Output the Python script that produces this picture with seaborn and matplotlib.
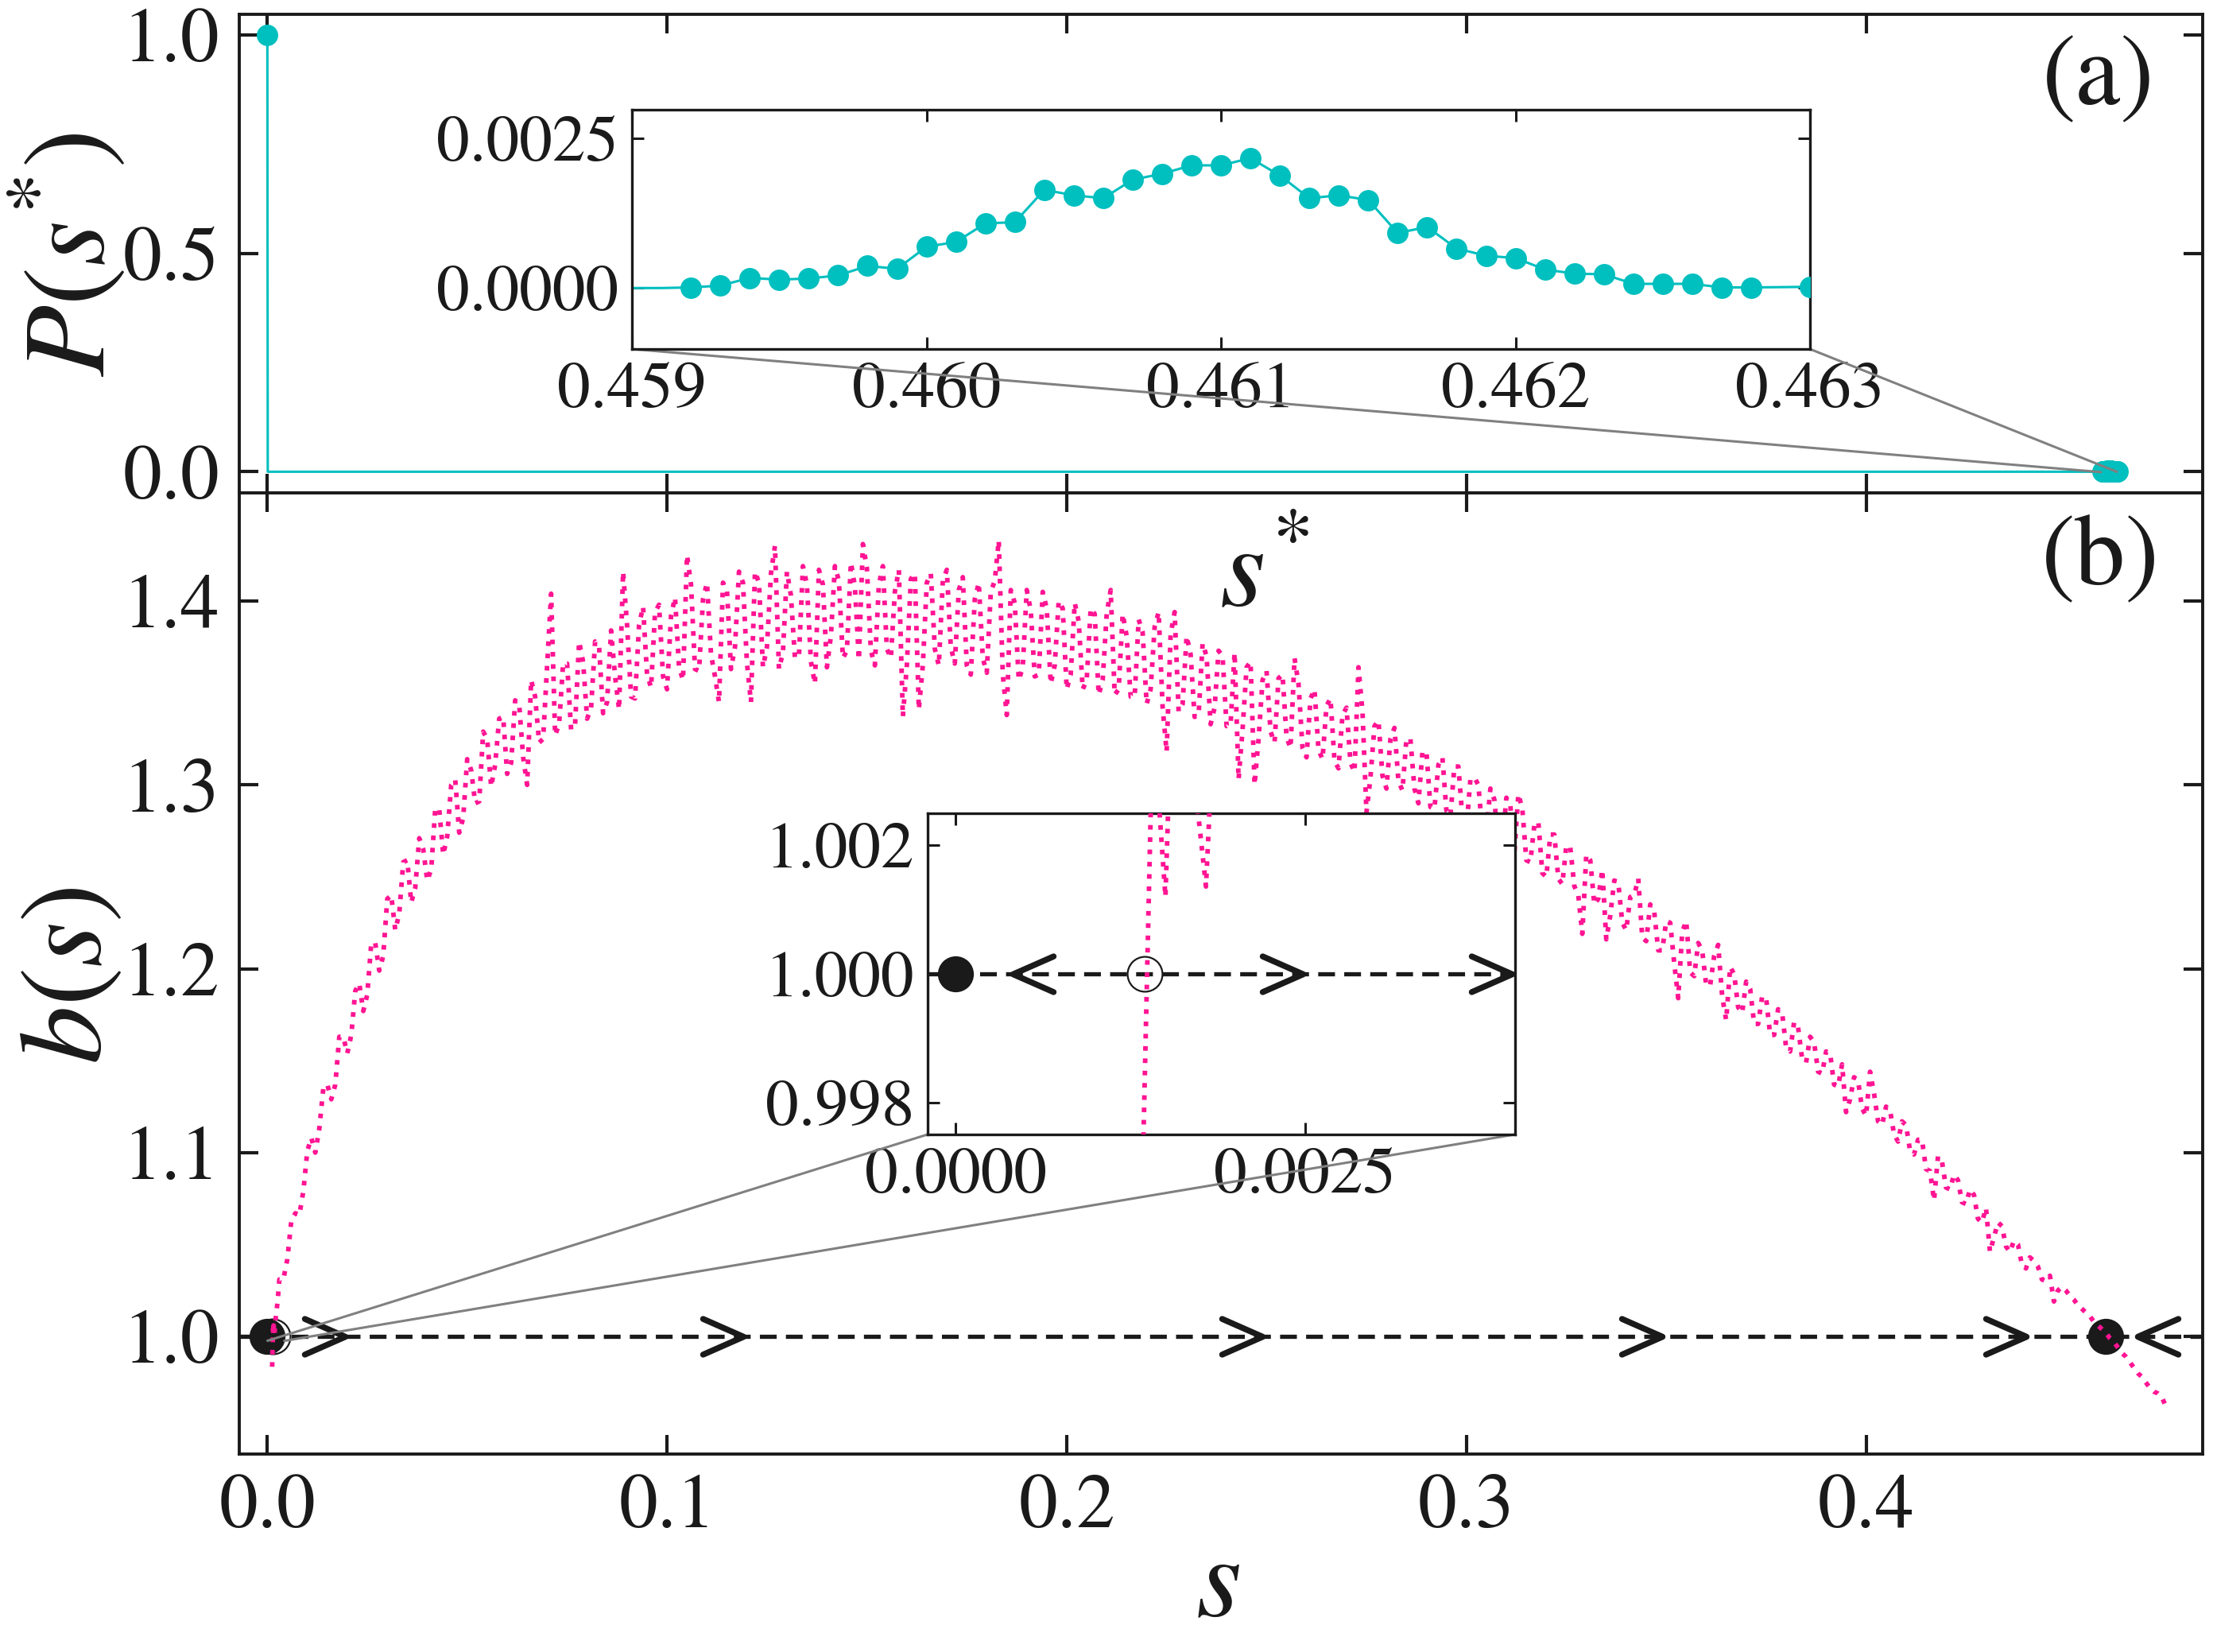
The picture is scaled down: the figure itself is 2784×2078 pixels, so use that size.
import numpy as np
import matplotlib
matplotlib.use('Agg')
import matplotlib.pyplot as plt
from matplotlib.path import Path
from matplotlib.markers import MarkerStyle
import seaborn as sns
from mpl_toolkits.axes_grid1.inset_locator import mark_inset

# ---- panel (a): distribution P(s*) ----
origin_s = [0.0]          # delta peak at s* = 0
origin_p = [1.0]
empty_s = [0.0001, 0.4591]  # empty bins between the two peaks
empty_p = [0.0, 0.0]
peak_s = [0.4592, 0.4593, 0.4594, 0.4595, 0.4596, 0.4597, 0.4598, 0.4599, 0.4600, 0.4601,
          0.4602, 0.4603, 0.4604, 0.4605, 0.4606, 0.4607, 0.4608, 0.4609, 0.4610, 0.4611,
          0.4612, 0.4613, 0.4614, 0.4615, 0.4616, 0.4617, 0.4618, 0.4619, 0.4620, 0.4621,
          0.4622, 0.4623, 0.4624, 0.4625, 0.4626, 0.4627, 0.4628, 0.4630]
peak_p = [0.00001, 0.00004, 0.00017, 0.00014, 0.00016, 0.00021, 0.00037, 0.00032, 0.00069, 0.00077,
          0.00108, 0.00110, 0.00164, 0.00155, 0.00150, 0.00181, 0.00191, 0.00205, 0.00205, 0.00217,
          0.00188, 0.00150, 0.00155, 0.00147, 0.00092, 0.00102, 0.00066, 0.00054, 0.00050, 0.00031,
          0.00024, 0.00023, 0.00007, 0.00007, 0.00007, 0.00001, 0.00001, 0.00002]

# ---- panel (b): b(s) ----
head_s = [0.0012, 0.00141, 0.0015, 0.00157, 0.00166, 0.00179, 0.0019, 0.0022, 0.0026]
head_b = [0.9835, 1.0040, 1.0012, 1.0060, 1.0040, 1.00136, 1.0065, 1.012, 1.020]

# samples at s = 0.003, 0.005, ..., 0.475
odd_start = 0.003
b_odd = [
    1.031, 1.042, 1.067, 1.079, 1.108, 1.113, 1.137, 1.137, 1.163, 1.164,
    1.192, 1.186, 1.214, 1.207, 1.240, 1.230, 1.259, 1.244, 1.265, 1.254,
    1.287, 1.272, 1.303, 1.282, 1.308, 1.291, 1.325, 1.311, 1.337, 1.312,
    1.344, 1.300, 1.348, 1.325, 1.404, 1.333, 1.366, 1.333, 1.367, 1.342,
    1.375, 1.345, 1.359, 1.416, 1.348, 1.387, 1.360, 1.394, 1.359, 1.392,
    1.364, 1.425, 1.363, 1.401, 1.371, 1.345, 1.406, 1.375, 1.410, 1.345,
    1.410, 1.375, 1.430, 1.372, 1.403, 1.370, 1.409, 1.355, 1.409, 1.381,
    1.411, 1.373, 1.408, 1.431, 1.373, 1.409, 1.374, 1.405, 1.337, 1.412,
    1.341, 1.410, 1.374, 1.411, 1.375, 1.406, 1.365, 1.401, 1.369, 1.405,
    1.433, 1.338, 1.399, 1.364, 1.395, 1.360, 1.396, 1.365, 1.396, 1.360,
    1.389, 1.357, 1.393, 1.357, 1.406, 1.352, 1.381, 1.348, 1.383, 1.352,
    1.394, 1.318, 1.394, 1.344, 1.371, 1.338, 1.370, 1.342, 1.370, 1.333,
    1.303, 1.364, 1.300, 1.357, 1.329, 1.358, 1.326, 1.369, 1.320, 1.347,
    1.319, 1.343, 1.313, 1.338, 1.312, 1.364, 1.285, 1.332, 1.305, 1.325,
    1.302, 1.325, 1.298, 1.318, 1.288, 1.311, 1.286, 1.310, 1.282, 1.303,
    1.300, 1.274, 1.292, 1.267, 1.289, 1.295, 1.259, 1.278, 1.252, 1.273,
    1.249, 1.267, 1.245, 1.219, 1.259, 1.238, 1.216, 1.248, 1.225, 1.239,
    1.249, 1.215, 1.231, 1.210, 1.225, 1.184, 1.226, 1.196, 1.210, 1.191,
    1.213, 1.172, 1.197, 1.176, 1.189, 1.170, 1.184, 1.164, 1.176, 1.155,
    1.168, 1.149, 1.160, 1.143, 1.154, 1.136, 1.122, 1.141, 1.124, 1.144,
    1.117, 1.125, 1.110, 1.117, 1.101, 1.107, 1.091, 1.074, 1.095, 1.080,
    1.085, 1.072, 1.077, 1.062, 1.046, 1.062, 1.049, 1.052, 1.039, 1.043,
    1.038, 1.030, 1.019, 1.027, 1.022, 1.017, 1.013, 1.008, 1.004, 0.999,
    0.994, 0.989, 0.983, 0.978, 0.972, 0.969, 0.962,
]
# samples at s = 0.004, 0.006, ..., 0.474
even_start = 0.004
b_even = [
    1.031, 1.063, 1.066, 1.101, 1.100, 1.135, 1.129, 1.163, 1.154, 1.188,
    1.177, 1.214, 1.199, 1.238, 1.221, 1.258, 1.236, 1.271, 1.248, 1.287,
    1.262, 1.300, 1.274, 1.314, 1.290, 1.329, 1.299, 1.336, 1.306, 1.346,
    1.315, 1.357, 1.323, 1.365, 1.327, 1.366, 1.330, 1.378, 1.336, 1.378,
    1.339, 1.384, 1.341, 1.387, 1.347, 1.397, 1.353, 1.398, 1.352, 1.402,
    1.357, 1.409, 1.362, 1.410, 1.359, 1.410, 1.363, 1.416, 1.366, 1.416,
    1.364, 1.415, 1.363, 1.416, 1.369, 1.419, 1.367, 1.417, 1.364, 1.419,
    1.369, 1.421, 1.368, 1.418, 1.365, 1.419, 1.369, 1.417, 1.365, 1.415,
    1.365, 1.415, 1.365, 1.417, 1.366, 1.413, 1.360, 1.410, 1.361, 1.411,
    1.360, 1.406, 1.357, 1.406, 1.359, 1.405, 1.355, 1.400, 1.352, 1.399,
    1.352, 1.396, 1.349, 1.393, 1.349, 1.393, 1.348, 1.390, 1.344, 1.386,
    1.342, 1.382, 1.340, 1.381, 1.337, 1.377, 1.333, 1.373, 1.332, 1.372,
    1.330, 1.367, 1.325, 1.362, 1.323, 1.360, 1.320, 1.355, 1.315, 1.352,
    1.314, 1.347, 1.309, 1.342, 1.307, 1.340, 1.304, 1.335, 1.298, 1.331,
    1.297, 1.325, 1.290, 1.318, 1.287, 1.315, 1.283, 1.310, 1.276, 1.304,
    1.274, 1.298, 1.267, 1.293, 1.263, 1.287, 1.258, 1.280, 1.250, 1.273,
    1.246, 1.266, 1.240, 1.262, 1.235, 1.254, 1.229, 1.247, 1.221, 1.240,
    1.217, 1.235, 1.210, 1.226, 1.203, 1.220, 1.198, 1.214, 1.191, 1.207,
    1.185, 1.201, 1.179, 1.193, 1.170, 1.185, 1.164, 1.178, 1.157, 1.171,
    1.151, 1.163, 1.144, 1.155, 1.137, 1.148, 1.129, 1.139, 1.120, 1.132,
    1.115, 1.123, 1.106, 1.115, 1.099, 1.107, 1.090, 1.098, 1.081, 1.088,
    1.073, 1.080, 1.064, 1.070, 1.054, 1.060, 1.046, 1.050, 1.037, 1.041,
    1.031, 1.033, 1.025, 1.025, 1.020, 1.015, 1.011, 1.006, 1.002, 0.997,
    0.991, 0.986, 0.980, 0.975, 0.970, 0.967,
]

fixed_b = 1.0
stable_s = [0.0, 0.4600]
unstable_s = [0.00135]
flow_right = [0.0195, 0.119, 0.249, 0.349, 0.44]
flow_left = [0.468]
zoom_right = [0.00248, 0.00398]
zoom_left = [0.00041]

PINK = '#FF1493'
CYAN = '#00BFBF'

# assemble series
line_s = origin_s + empty_s + peak_s
line_p = origin_p + empty_p + peak_p
mark_s = origin_s + peak_s
mark_p = origin_p + peak_p
s_odd = np.round(odd_start + 0.002 * np.arange(len(b_odd)), 4)
s_even = np.round(even_start + 0.002 * np.arange(len(b_even)), 4)
b_s = np.concatenate([head_s, s_odd, s_even])
b_v = np.concatenate([head_b, b_odd, b_even])
order = np.argsort(b_s, kind='stable')
b_s, b_v = b_s[order], b_v[order]

sns.set_theme(style='ticks')
plt.rcParams['font.family'] = ['STIXGeneral', 'DejaVu Serif']
plt.rcParams['mathtext.fontset'] = 'stix'
plt.rcParams['text.color'] = 'k'
plt.rcParams['xtick.color'] = 'k'
plt.rcParams['ytick.color'] = 'k'


def chevron(d):
    verts = [(-d, 0.44), (0, 0), (-d, -0.44)]
    path = Path(verts, [Path.MOVETO, Path.LINETO, Path.LINETO])
    return MarkerStyle(path, capstyle='round', joinstyle='round')


def style(ax, size, length, width, pad, lw):
    ax.tick_params(direction='in', top=True, right=True, length=length,
                   width=width, labelsize=size, pad=pad, colors='k')
    for sp in ax.spines.values():
        sp.set_linewidth(lw)
        sp.set_color('k')


def draw_flow(ax, right, left, ms):
    ax.axhline(fixed_b, color='k', lw=1.9, ls=(0, (4, 2.2)), zorder=2)
    ax.plot(right, [fixed_b] * len(right), ls='none', marker=chevron(1), ms=ms,
            mfc='none', mec='k', mew=2.7, zorder=3)
    ax.plot(left, [fixed_b] * len(left), ls='none', marker=chevron(-1), ms=ms,
            mfc='none', mec='k', mew=2.7, zorder=3)
    ax.plot(stable_s, [fixed_b] * len(stable_s), 'o', color='k', ms=16.3, mew=0, zorder=3)
    ax.plot(unstable_s, [fixed_b] * len(unstable_s), 'o', mfc='none', mec='k',
            ms=15.8, mew=0.8, zorder=3)
    sns.lineplot(x=b_s, y=b_v, ax=ax, color=PINK, lw=2.1, linestyle=':',
                 estimator=None, sort=False, zorder=4)


fig = plt.figure(figsize=(13.92, 10.39), dpi=200)
ax_top = fig.add_axes([0.1081, 0.7016, 0.8872, 0.2897])
ax_bot = fig.add_axes([0.1081, 0.1198, 0.8872, 0.5818])

# panel (a)
sns.lineplot(x=line_s, y=line_p, ax=ax_top, color=CYAN, lw=1.1, estimator=None, sort=False)
sns.scatterplot(x=mark_s, y=mark_p, ax=ax_top, color=CYAN, s=94, linewidth=0, zorder=3)
ax_top.set_xlim(-0.00704, 0.4842)
ax_top.set_ylim(-0.0486, 1.047)
ax_top.set_xticks([0.0, 0.1, 0.2, 0.3, 0.4])
ax_top.set_yticks([0.0, 0.5, 1.0])
ax_top.set_yticklabels(['0.0', '0.5', '1.0'])
style(ax_top, 35, 8.6, 1.5, 9, 1.4)
ax_top.tick_params(labelbottom=False)
ax_top.set_xlabel('')
ax_top.set_ylabel('')
ax_top.text(0.947, 0.862, '(a)', transform=ax_top.transAxes, ha='center', va='center', fontsize=46)

# panel (b)
draw_flow(ax_bot, flow_right, flow_left, 36.7)
ax_bot.set_xlim(-0.00704, 0.4842)
ax_bot.set_ylim(0.936, 1.4588)
ax_bot.set_xticks([0.0, 0.1, 0.2, 0.3, 0.4])
ax_bot.set_xticklabels(['0.0', '0.1', '0.2', '0.3', '0.4'])
ax_bot.set_yticks([1.0, 1.1, 1.2, 1.3, 1.4])
ax_bot.set_yticklabels(['1.0', '1.1', '1.2', '1.3', '1.4'])
style(ax_bot, 35, 8.6, 1.5, 9, 1.4)
ax_bot.set_xlabel('')
ax_bot.set_ylabel('')
ax_bot.text(0.948, 0.930, '(b)', transform=ax_bot.transAxes, ha='center', va='center', fontsize=46)
ax_bot.text(0.522, 0.911, '$s^{*}$', transform=ax_bot.transAxes, ha='center', va='center', fontsize=53)

# inset (a)
ax_in1 = fig.add_axes([0.2856, 0.7887, 0.5323, 0.1449])
sns.lineplot(x=line_s, y=line_p, ax=ax_in1, color=CYAN, lw=1.1, estimator=None, sort=False)
sns.scatterplot(x=mark_s, y=mark_p, ax=ax_in1, color=CYAN, s=94, linewidth=0, zorder=3)
ax_in1.set_xlim(0.459, 0.463)
ax_in1.set_ylim(-0.00102, 0.00298)
ax_in1.set_xticks([0.459, 0.460, 0.461, 0.462, 0.463])
ax_in1.set_xticklabels(['0.459', '0.460', '0.461', '0.462', '0.463'])
ax_in1.set_yticks([0.0, 0.0025])
ax_in1.set_yticklabels(['0.0000', '0.0025'])
style(ax_in1, 30, 5.5, 1.1, 6, 1.2)
ax_in1.set_xlabel('')
ax_in1.set_ylabel('')
mark_inset(ax_top, ax_in1, loc1=3, loc2=4, fc='none', ec='0.5', lw=1.1)

# inset (b)
ax_in2 = fig.add_axes([0.4192, 0.3133, 0.2654, 0.1944])
draw_flow(ax_in2, zoom_right, zoom_left, 36.7)
ax_in2.set_xlim(-0.0002, 0.004)
ax_in2.set_ylim(0.9975, 1.0025)
ax_in2.set_xticks([0.0, 0.0025])
ax_in2.set_xticklabels(['0.0000', '0.0025'])
ax_in2.set_yticks([0.998, 1.000, 1.002])
ax_in2.set_yticklabels(['0.998', '1.000', '1.002'])
style(ax_in2, 30, 5.5, 1.1, 6, 1.2)
ax_in2.set_xlabel('')
ax_in2.set_ylabel('')
mark_inset(ax_bot, ax_in2, loc1=3, loc2=4, fc='none', ec='0.5', lw=1.1)

# axis labels
fig.text(88 / 2784, 1 - 320 / 2078, '$P(s^{*})$', rotation=90, ha='center', va='center', fontsize=53)
fig.text(92 / 2784, 1 - 1227 / 2078, '$b(s)$', rotation=90, ha='center', va='center', fontsize=53)
fig.text(1532 / 2784, 1 - 2033 / 2078, '$s$', ha='center', va='baseline', fontsize=53)

fig.savefig('out.png', dpi=200)
